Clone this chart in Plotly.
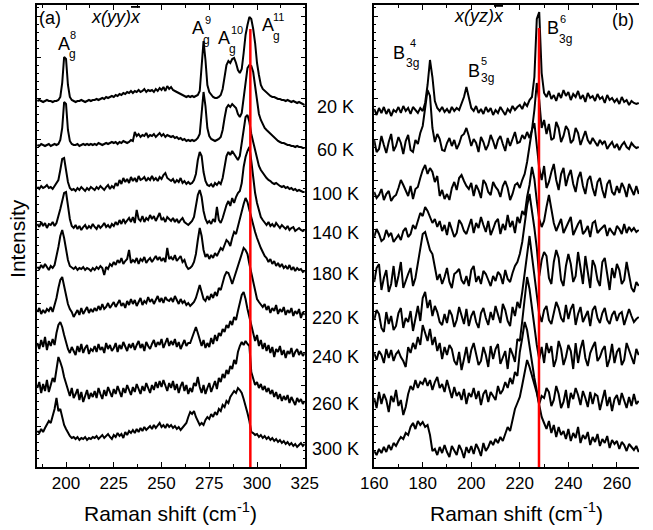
import plotly.graph_objects as go

# ---------------- data ----------------
temps = ["20 K", "60 K", "100 K", "140 K", "180 K", "220 K", "240 K", "260 K", "300 K"]
offsets = [362, 319, 275, 236, 195, 151, 112, 65, 20]   # waterfall offsets (a.u.)

shift_a = list(range(185, 326))   # cm^-1, panel (a)
shift_b = list(range(160, 270))   # cm^-1, panel (b)

a20 = [4,5,4,3,4,5,4,4,3,4, 4,5,8,22,48,46,20,8,5,4, 3,4,4,5,4,3,4,5,4,5, 5,6,5,6,7,6,8,7,8,9,
       8,10,9,11,10,12,11,13,12,14, 12,14,13,15,13,14,16,13,15,14, 15,13,16,14,17,15,18,14,19,16,
       18,15,14,13,12,11,10,9,8,9, 8,9,8,9,10,14,40,64,45,20, 13,10,8,7,7,8,10,16,28,40,
       44,42,46,47,42,35,32,36,52,70, 80,88,86,76,62,42,30,20,16,14, 12,10,9,8,8,7,6,6,5,5,
       4,5,4,3,4,3,2,3,2,1, 0]
a60 = [3,2,4,3,2,3,4,2,3,4, 3,4,8,20,46,44,18,7,4,3, 3,4,2,3,4,3,4,3,4,3, 4,3,5,4,3,4,5,4,5,6,
       5,6,4,6,5,7,6,5,6,8, 7,16,12,14,11,13,12,15,11,13, 12,14,11,13,15,12,14,11,13,12,
       11,12,10,11,9,10,8,9,7,8, 7,8,7,8,10,14,38,56,42,20, 12,9,8,7,8,9,11,18,30,40,
       43,41,44,42,40,34,31,35,50,68, 80,83,82,76,62,44,34,28,23,20, 18,16,14,12,10,8,7,6,5,5,
       4,3,3,2,2,1,2,1,1,0, 0]
a100 = [5,3,6,4,5,7,4,5,3,6, 8,12,22,33,34,22,10,4,2,3, 1,4,2,5,3,1,4,2,5,3, 2,5,3,6,4,2,5,7,3,6,
        4,9,6,12,8,14,10,13,9,15, 11,14,10,16,12,13,15,11,14,12, 16,12,14,11,15,13,17,19,14,12,
        11,13,9,12,10,14,9,11,8,10, 8,9,12,18,32,40,36,20,11,7, 6,8,5,9,7,10,8,14,26,36,
        40,37,41,38,35,32,36,50,64,75, 77,70,58,50,42,33,26,22,19,16, 14,12,11,9,8,9,7,6,5,6,
        4,5,3,4,2,3,1,2,1,0, 0]
a140 = [7,4,9,5,8,3,7,6,9,5, 8,14,22,30,38,39,26,12,5,3, 6,2,5,1,4,6,2,5,3,7, 4,2,6,3,5,8,4,6,3,7,
        5,9,6,11,7,12,8,10,13,9, 14,8,21,12,10,15,9,13,11,16, 12,15,10,14,18,11,13,9,14,12,
        10,13,9,12,8,11,13,9,7,6, 8,10,14,24,36,41,34,20,12,8, 10,7,12,9,24,11,8,13,20,26,
        30,25,33,28,34,38,40,48,64,74, 80,84,70,52,38,28,20,14,11,8, 6,9,5,7,4,8,5,3,6,4,
        2,5,1,3,4,0,2,3,1,0, 1]
a180 = [5,3,7,4,8,5,2,6,4,7, 15,25,36,42,34,22,12,6,4,3, 5,2,4,3,5,2,4,3,1,4, 2,5,3,6,4,-3,5,3,8,6,
        10,7,12,9,14,8,11,13,22,9, 12,10,14,8,13,11,15,9,12,14, 10,13,16,12,15,11,14,10,24,13,
        15,12,17,11,14,16,10,12,6,3, 4,6,10,18,32,44,36,22,15,18, 13,17,14,19,16,21,24,22,28,32,
        30,26,34,40,38,46,52,60,68,74, 70,62,54,46,40,34,28,24,20,16, 14,10,13,8,11,6,9,5,8,4,
        6,3,7,2,5,1,4,2,3,0, 1]
a220 = [4,8,2,6,3,7,5,9,4,10, 18,28,36,39,30,20,12,7,4,-1, 3,6,1,8,2,5,9,3,7,4, 8,5,10,6,12,7,9,13,8,11,
        14,9,12,16,10,13,8,15,11,17, 12,16,10,14,18,11,15,13,19,14, 17,12,16,20,14,18,13,19,16,15,
        18,14,20,16,12,17,13,15,11,13, 10,12,14,18,26,31,24,17,15,20, 16,22,18,24,20,28,26,34,40,44,
        43,38,32,38,44,50,56,62,68,66, 62,52,43,32,23,17,14,11,9,12, 6,10,3,8,5,11,2,7,4,9,
        1,6,3,8,0,5,2,7,-2,4, 1]
a240 = [12,6,15,8,18,5,14,9,16,10, 22,30,33,28,20,12,6,2,8,4, 0,9,3,11,2,7,10,1,6,4, 9,3,11,5,8,2,12,6,10,4,
        7,12,3,10,6,13,8,4,11,7, 12,5,10,14,7,11,4,13,9,6, 11,15,8,13,10,16,7,12,17,9,
        14,10,16,8,13,6,11,15,9,12, 12,18,24,28,22,14,9,15,7,12, 8,17,11,20,14,22,19,26,23,30,
        27,34,30,38,35,44,52,60,63,56, 46,38,27,22,14,20,9,15,6,12, 4,10,2,8,-2,6,3,9,0,5,
        -3,4,1,7,-2,3,6,0,4,-1, 2]
a260 = [14,20,9,18,11,22,10,16,24,20, 32,45,40,34,25,18,12,6,14,4, 8,13,2,10,0,7,12,3,9,5, 11,4,14,8,3,12,6,15,9,5,
        13,8,16,10,5,14,9,17,11,7, 15,10,18,12,8,16,11,19,13,9, 17,12,20,14,21,15,22,16,11,19,
        14,21,12,18,9,16,20,11,17,8, 14,10,19,16,25,15,9,17,8,14, 19,10,16,21,13,24,20,28,24,32,
        28,36,33,42,38,50,56,60,57,61, 58,56,30,22,17,20,14,18,12,16, 10,14,8,12,5,10,3,8,1,6,
        2,7,-1,5,1,-3,4,0,3,-2, 1]
a300 = [16,14,18,15,19,22,26,24,30,38, 49,36,38,30,22,18,14,11,9,10, 8,10,7,9,8,10,7,9,8,10, 9,11,8,10,12,9,11,13,10,8,
        12,10,14,11,13,9,15,12,16,14, 17,14,18,15,19,16,20,17,19,21, 18,22,19,21,24,20,22,19,23,20,
        22,19,21,18,20,17,19,21,24,30, 35,33,36,30,26,22,24,22,27,30, 28,33,30,35,32,38,36,42,40,46,
        44,50,53,56,54,59,57,54,48,42, 34,26,15,14,12,13,10,12,9,11, 8,10,7,9,6,8,5,7,4,6,
        3,5,2,4,1,3,0,2,4,1, 3]

b20 = [-4,-10,-3,-8,-2,-9,-4,-11,-5,-7, -2,-8,-1,-6,-3,-9,-2,-5,-8,-3, -6,2,20,45,28,4,-3,-6,-2,-7,
       -4,-8,-2,-6,-3,-5,2,8,18,6, -3,-6,-1,-8,-4,-9,-2,-7,-3,-10, -5,-8,-2,-6,-10,-4,-7,-1,-5,-2,
       0,-4,2,-1,5,8,28,86,93,32, 12,8,14,6,10,4,12,7,15,9, 13,5,11,8,14,6,10,3,12,7,
       9,4,11,6,8,2,10,5,7,3, 6,1,8,3,5,0,4,2,1,2]
b60 = [8,-4,-1,12,3,-5,6,14,-3,2, 11,5,-6,7,13,-2,-4,8,4,15, 22,40,58,52,20,6,14,9,-2,-3,
       5,10,2,8,-1,4,12,14,20,12, 2,9,5,-4,11,6,-2,3,13,7, -1,8,12,4,-3,10,2,9,16,5,
       6,13,9,16,10,18,38,65,48,20, 28,14,24,8,10,26,20,6,12,22, 18,5,8,20,15,3,10,17,8,4,
       10,6,2,8,4,7,-1,3,6,0, 4,-2,3,6,1,-1,5,2,0,1]
b100 = [0,-6,-3,3,-8,-2,1,-9,-5,-3, 4,12,7,2,-4,6,-7,3,5,14, 22,27,18,24,20,10,16,-4,2,-7,
        -2,-8,4,10,2,14,17,11,6,3, 9,-4,7,2,-6,12,8,0,-3,10, 5,2,-5,6,11,4,-8,-2,7,9,
        4,12,18,30,45,62,69,44,24,12, 26,4,10,20,28,12,2,18,24,6, 16,22,8,0,14,20,6,-2,12,16,
        4,-4,10,14,2,-6,8,12,0,-3, 6,-1,9,4,-5,8,3,-3,6,-2]
b140 = [-6,2,-3,-10,-8,1,-5,-2,-11,-7, -4,-9,0,3,-6,-3,6,2,10,18, 15,24,20,14,8,12,4,10,0,6,
        -4,9,2,-6,-2,11,7,0,-3,5, 12,-2,8,3,14,6,-1,10,-4,2, 9,12,-3,7,1,16,4,10,-2,14,
        8,20,16,34,46,64,52,30,12,4, 10,24,36,22,8,0,6,12,-2,3, 9,14,-4,2,7,11,-3,0,5,-6,
        8,10,-2,1,4,6,-5,3,-1,-4, 5,2,-3,7,-2,4,0,3,-1,1]
b180 = [-10,4,8,-18,-6,2,-20,-12,6,-15, -4,10,-16,-8,-2,4,-14,-6,8,20, 38,40,30,22,18,6,-8,-2,-12,-5,
        4,-10,-16,-2,0,3,-8,-12,-4,-14, 2,6,-10,-4,-12,1,-2,-8,-14,-4, -9,0,-3,-12,2,-7,-10,-1,6,10,
        18,30,48,66,78,62,44,24,-4,12, 20,16,-6,-12,10,22,14,-8,-14,6, 18,8,-10,-4,20,4,-12,16,2,-16,
        12,6,-8,-14,10,14,-2,-18,4,-6, 8,2,-12,-8,10,-4,-16,-20,-10,-14]
b220 = [-4,6,2,-12,-16,4,-8,0,-14,-10, 3,8,-12,-2,-6,5,-15,-3,10,-5, 18,24,8,16,0,10,4,-6,-9,2,
        -7,6,1,-11,-4,9,-1,-8,7,-10, 0,5,-6,-12,3,8,-2,-9,4,-4, 10,2,-7,12,6,-5,-10,9,0,14,
        8,24,44,66,80,60,40,20,2,-6, 6,10,-4,-8,4,14,8,-2,-6,11, -3,7,12,-9,2,9,-6,-1,5,-10,
        6,10,-2,-7,3,8,-4,-8,1,5, -5,2,4,-9,-2,7,0,-6,-3,-1]
b240 = [2,-5,4,0,-8,6,-3,5,-6,1, 4,-2,-6,-12,8,2,12,6,18,10, 30,22,14,26,10,18,4,12,-4,8,
        0,10,6,-6,-10,3,-15,-4,8,-8, 5,12,2,-10,-6,8,0,-12,9,-4, 6,11,-9,-2,4,-14,7,1,-7,16,
        14,34,56,78,66,46,28,10,-4,8, -8,12,2,9,-12,-4,14,6,-10,-2, 10,4,-14,12,-8,6,15,-3,-11,2,
        8,13,-6,-2,5,9,-12,-4,11,-8, 3,7,-10,-5,12,4,-2,-9,6,0]
b260 = [4,-6,10,-2,8,2,-10,6,0,12, -4,2,-13,-5,8,16,12,22,14,20, 18,24,16,22,12,20,25,14,18,10,
        22,12,4,15,6,10,2,13,-2,9, 5,14,3,11,-3,8,12,0,10,6, 2,16,8,12,20,14,24,18,30,26,
        50,64,80,72,58,40,24,10,-2,6, 4,14,10,-4,2,16,8,-6,0,12, -6,9,3,14,7,-3,11,4,-5,10,
        -2,8,6,-8,2,12,-4,5,-9,3, 7,-3,9,2,-6,5,-4,8,-2,1]
b300 = [-4,-8,-2,-6,0,-5,2,-3,4,1, 6,10,8,14,12,20,24,18,26,22, 25,20,22,12,-4,-2,-8,0,-6,2,
        -5,-10,1,-4,-8,2,-3,-11,0,-6, 1,-7,3,-2,-9,4,-4,0,6,2, 8,4,10,6,14,20,16,28,38,44,
        50,62,76,87,80,72,64,54,42,30, 24,18,26,14,22,10,20,12,16,8, 18,6,14,9,20,4,12,8,15,2,
        10,5,13,1,8,4,11,-1,7,3, 6,-2,5,2,-4,3,0,-3,1,-5]

spectra_a = [a20, a60, a100, a140, a180, a220, a240, a260, a300]
spectra_b = [b20, b60, b100, b140, b180, b220, b240, b260, b300]

mode_a = 296.5   # red marker, panel (a)
mode_b = 227.9   # red marker, panel (b)

# ---------------- figure ----------------
FONT = "Arial, Liberation Sans, sans-serif"
fig = go.Figure()

for vals, off in zip(spectra_a, offsets):
    fig.add_trace(go.Scatter(x=shift_a, y=[v + off for v in vals], mode="lines",
                             line=dict(color="black", width=2), xaxis="x", yaxis="y",
                             showlegend=False, hoverinfo="skip"))
for vals, off in zip(spectra_b, offsets):
    fig.add_trace(go.Scatter(x=shift_b, y=[v + off for v in vals], mode="lines",
                             line=dict(color="black", width=2), xaxis="x2", yaxis="y2",
                             showlegend=False, hoverinfo="skip"))

W, H = 653, 530
ml, mr, mt, mb = 37, 0, 5, 63
pw = W - ml - mr
YR = [0, 462]

axis_common = dict(showline=True, linecolor="black", linewidth=1.5, ticks="inside",
                   tickcolor="black", showgrid=False, zeroline=False)

fig.update_layout(
    width=W, height=H, margin=dict(l=ml, r=mr, t=mt, b=mb),
    plot_bgcolor="white", paper_bgcolor="white",
    font=dict(family=FONT, color="black"),
    xaxis=dict(domain=[0, 274 / pw], range=[184.8, 325], tickvals=[200, 225, 250, 275, 300, 325],
               ticklen=5, tickwidth=1.2, mirror="ticks",
               minor=dict(dtick=12.5, tick0=187.5, ticklen=3, tickcolor="black", ticks="inside"),
               tickfont=dict(size=17, family=FONT), anchor="y", **axis_common),
    yaxis=dict(domain=[0, 1], range=YR, showticklabels=False, dtick=41, tick0=0, ticklen=4,
               mirror="ticks",
               minor=dict(dtick=8.2, ticklen=2, tickcolor="black", ticks="inside"),
               anchor="x", **axis_common),
    xaxis2=dict(domain=[(382 - ml) / pw, 1], range=[160, 269.1], dtick=20, tick0=160,
                ticklen=5, tickwidth=1.2, mirror="ticks",
                minor=dict(dtick=10, ticklen=3, tickcolor="black", ticks="inside"),
                tickfont=dict(size=17, family=FONT), anchor="y2", **axis_common),
    yaxis2=dict(domain=[0, 1], range=YR, showticklabels=False, dtick=41, tick0=0, ticklen=4,
                mirror=False,
                minor=dict(dtick=8.2, ticklen=2, tickcolor="black", ticks="inside"),
                anchor="x2", **axis_common),
)

# red marker lines
fig.add_shape(type="line", xref="x", yref="y", x0=mode_a, x1=mode_a, y0=0, y1=438,
              line=dict(color="#ff0000", width=2.5), layer="above")
fig.add_shape(type="line", xref="x2", yref="y2", x0=mode_b, x1=mode_b, y0=0, y1=439,
              line=dict(color="#ff0000", width=2.5), layer="above")

ann = []
def txt(x, y, s, size, xref="x", yref="y", **kw):
    d = dict(x=x, y=y, xref=xref, yref=yref, text=s, showarrow=False,
             font=dict(size=size, family=FONT, color="black"), xanchor="center", yanchor="middle")
    d.update(kw)
    ann.append(d)

# temperature labels
for t, off in zip(temps, offsets):
    txt((342.5 - ml) / pw, off - 2, t, 18, xref="paper")

# axis titles
txt((174 - ml) / pw, -45 / 462, "Raman shift (cm<sup>-1</sup>)", 21, xref="paper", yref="paper")
txt((527.5 - ml) / pw, -45 / 462, "Raman shift (cm<sup>-1</sup>)", 21, xref="paper", yref="paper")
txt((17.5 - ml) / pw, 229 / 462, "Intensity", 21, xref="paper", yref="paper", textangle=-90)

ov = '<i>x(%s)<span style="text-decoration:overline">x</span></i>'
# panel (a) labels
txt(191.7, 449.5, "(a)", 18)
txt(226.4, 450, ov % "yy", 18)
for (ax, ay, sx, sy, gx, gy, n) in [(199.1, 423.5, 203.5, 432, 203.2, 413, "8"),
                                     (269.1, 438.7, 274.3, 447, 273.3, 427, "9"),
                                     (282.7, 428.7, 289.7, 437, 287.4, 418, "10"),
                                     (305.7, 442, 311.2, 450, 310.0, 431, "11")]:
    txt(ax, ay, "A", 18)
    txt(sx, sy, n, 11)
    txt(gx, gy, "g", 12)
# panel (b) labels
txt(262.7, 447, "(b)", 18, xref="x2", yref="y2")
txt(203.3, 451, ov % "yz", 18, xref="x2", yref="y2")
for (bx, by, sx, sy, gx, gy, n) in [(170.4, 414.5, 176.1, 424, 175.8, 404.5, "4"),
                                     (201.3, 396, 205.3, 406, 206.5, 389.5, "5"),
                                     (233.5, 439, 237.9, 448, 238.7, 428, "6")]:
    txt(bx, by, "B", 18, xref="x2", yref="y2")
    txt(sx, sy, n, 11, xref="x2", yref="y2")
    txt(gx, gy, "3g", 12, xref="x2", yref="y2")

fig.update_layout(annotations=ann)
fig.write_html("out.html")
